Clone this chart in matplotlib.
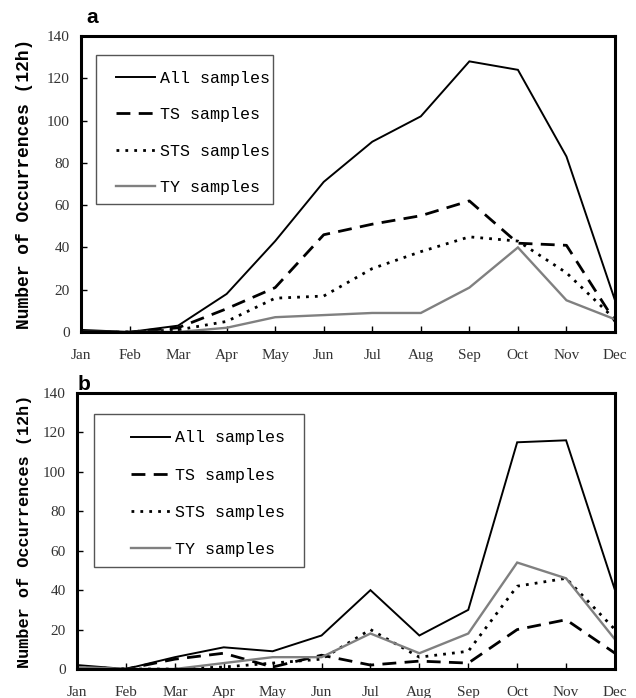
import matplotlib
matplotlib.use("Agg")
import matplotlib.pyplot as plt
from matplotlib.lines import Line2D
from matplotlib.patches import Rectangle
import numpy as np

meses = ['Jan', 'Feb', 'Mar', 'Apr', 'May', 'Jun', 'Jul', 'Aug', 'Sep', 'Oct', 'Nov', 'Dec']
nomes = ['All samples', 'TS samples', 'STS samples', 'TY samples']
y_ticks = [0, 20, 40, 60, 80, 100, 120, 140]

# painel a
all_a = [1, 0, 3, 18, 43, 71, 90, 102, 128, 124, 83, 15]
ts_a = [0, 0, 2, 11, 21, 46, 51, 55, 62, 42, 41, 5]
sts_a = [0, 0, 1, 5, 16, 17, 30, 38, 45, 43, 28, 6]
ty_a = [0, 0, 0, 2, 7, 8, 9, 9, 21, 40, 15, 6]

# painel b
all_b = [2, 0, 6, 11, 9, 17, 40, 17, 30, 115, 116, 40]
ts_b = [0, 0, 5, 8, 1, 7, 2, 4, 3, 20, 25, 8]
sts_b = [1, 0, 0, 1, 3, 5, 20, 6, 9, 42, 46, 20]
ty_b = [1, 0, 0, 3, 6, 6, 18, 8, 18, 54, 46, 15]

W, H = 636, 698
fig = plt.figure(figsize=(W / 100, H / 100), dpi=100)

estilos = [
    dict(color='black', lw=1.4, linestyle='-'),
    dict(color='black', lw=2.0, linestyle=(0, (5, 3))),
    dict(color='black', lw=2.0, linestyle=(0, (1, 2.2))),
    dict(color='#808080', lw=1.7, linestyle='-'),
]


def painel(rect, series, caixa, hx, cy, espaco, ylab_size, letra, letra_pos):
    l, t, r, b = rect
    ax = fig.add_axes([l / W, 1 - b / H, (r - l) / W, (b - t) / H])
    x = np.arange(len(meses))
    for s, st in zip(series, estilos):
        ax.plot(x, s, solid_joinstyle='miter', **st)
    ax.set_xlim(0, 11)
    ax.set_ylim(0, 140)
    ax.set_xticks(x)
    ax.set_xticklabels(meses)
    ax.set_yticks(y_ticks)
    for sp in ax.spines.values():
        sp.set_linewidth(2.2)
    ax.tick_params(direction='in', length=4, width=1, labelsize=11,
                   labelcolor='#333333', pad=8)
    ax.tick_params(axis='x', pad=12)
    for lab in ax.get_xticklabels() + ax.get_yticklabels():
        lab.set_family('Liberation Serif')

    # caixa da legenda
    x0, x1, y0, y1 = caixa
    ax.add_patch(Rectangle((x0, y0), x1 - x0, y1 - y0, transform=ax.transAxes,
                           facecolor='white', edgecolor='#555555', lw=1, zorder=4))
    handles = [Line2D([0], [0], **st) for st in estilos]
    leg = ax.legend(handles, nomes, loc='center left', bbox_to_anchor=(hx, cy),
                    frameon=False, borderpad=0, handlelength=2.34,
                    handletextpad=0.3, labelspacing=espaco,
                    prop={'family': 'Liberation Mono', 'size': 12})
    leg.set_zorder(5)

    fig.text(25 / W, 1 - (t + b) / 2 / H, 'Number of Occurrences (12h)',
             rotation=90, ha='center', va='center', family='Liberation Mono',
             weight='bold', size=ylab_size)
    fig.text(letra_pos[0] / W, 1 - letra_pos[1] / H, letra, ha='left', va='baseline',
             family='Liberation Sans', weight='bold', size=15)
    return ax


painel((81, 36, 615, 332), [all_a, ts_a, sts_a, ty_a],
       (0.0281, 0.3596, 0.4324, 0.9358), 0.05, 0.673, 1.29, 13, 'a', (86, 23))
painel((77, 393, 615, 669), [all_b, ts_b, sts_b, ty_b],
       (0.0322, 0.4219, 0.3685, 0.9228), 0.085, 0.635, 1.33, 12.2, 'b', (78, 390))

plt.savefig('out.png', dpi=100)
